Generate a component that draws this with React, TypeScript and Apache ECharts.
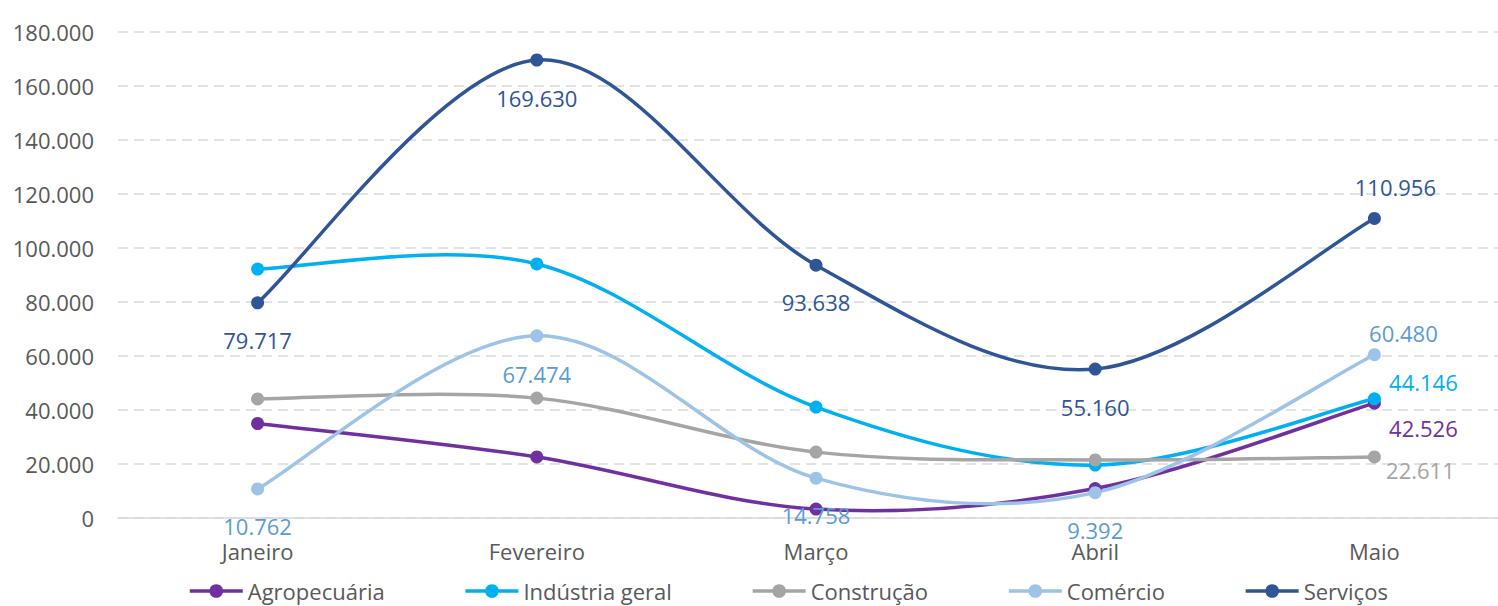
import React, { useEffect, useRef } from "react";
import * as echarts from "echarts";

const months = ["Janeiro", "Fevereiro", "Março", "Abril", "Maio"];
const seriesNames = ["Agropecuária", "Indústria geral", "Construção", "Comércio", "Serviços"];
const agropecuaria = [35000, 22600, 3300, 10900, 42526];
const industriaGeral = [92200, 94100, 41100, 19600, 44146];
const construcao = [44100, 44400, 24400, 21500, 22611];
const comercio = [10762, 67474, 14758, 9392, 60480];
const servicos = [79717, 169630, 93638, 55160, 110956];
const yMin = 0;
const yMax = 180000;
const yStep = 20000;

const lineColors = ["#7030A0", "#00B0F0", "#A5A5A5", "#9DC3E6", "#2F5597"];
const labelColors = ["#7030A0", "#00B0F0", "#A5A5A5", "#5B9BD5", "#2F5597"];

const fmt = (v: number) => String(Math.round(v)).replace(/\B(?=(\d{3})+(?!\d))/g, ".");

// which points get a label, and its offset from the marker
const labelOffsets: (number[] | null)[][] = [
  [null, null, null, null, [49, 25]],
  [null, null, null, null, [49, -17]],
  [null, null, null, null, [46, 13]],
  [[0, 37], [0, 38], [0, 37], [0, 37], [29, -22]],
  [[0, 37], [0, 38], [0, 37], [0, 38], [21, -31]],
];

const FONT = "'Open Sans', 'Noto Sans', sans-serif";
const LINE_W = 3.5;

// Catmull-Rom style smoothing (like spreadsheet smoothed lines), via axis coords
function smoothPath(pts: number[][]): string {
  const n = pts.length;
  let d = `M${pts[0][0]},${pts[0][1]}`;
  for (let i = 0; i < n - 1; i++) {
    const p0 = pts[Math.max(0, i - 1)];
    const p1 = pts[i];
    const p2 = pts[i + 1];
    const p3 = pts[Math.min(n - 1, i + 2)];
    const c1x = p1[0] + (p2[0] - p0[0]) / 6;
    const c1y = p1[1] + (p2[1] - p0[1]) / 6;
    const c2x = p2[0] - (p3[0] - p1[0]) / 6;
    const c2y = p2[1] - (p3[1] - p1[1]) / 6;
    d += ` C${c1x},${c1y} ${c2x},${c2y} ${p2[0]},${p2[1]}`;
  }
  return d;
}

export default function App() {
  const ref = useRef<HTMLDivElement>(null);
  useEffect(() => {
    if (!ref.current) return;
    const chart = echarts.init(ref.current, undefined, { renderer: "svg" });
    const all = [agropecuaria, industriaGeral, construcao, comercio, servicos];
    const series: any[] = [];
    all.forEach((vals, si) => {
      series.push({
        name: "curve-" + si,
        type: "custom",
        silent: true,
        coordinateSystem: "cartesian2d",
        data: [[0, vals[0]]],
        encode: { x: 0, y: 1 },
        renderItem: (_params: any, api: any) => {
          const pts = vals.map((v, i) => api.coord([i, v]));
          return {
            type: "path",
            shape: { pathData: smoothPath(pts) },
            style: { fill: "none", stroke: lineColors[si], lineWidth: LINE_W, lineCap: "round", lineJoin: "round" },
          };
        },
      });
      series.push({
        name: seriesNames[si],
        type: "line",
        symbol: "circle",
        symbolSize: 13,
        lineStyle: { width: 0, opacity: 0, color: lineColors[si] },
        itemStyle: { color: lineColors[si] },
        label: { show: false },
        data: vals.map((v, i) => {
          const off = labelOffsets[si][i];
          if (!off) return v;
          return {
            value: v,
            label: {
              show: true,
              position: "inside",
              offset: off,
              color: labelColors[si],
              fontFamily: FONT,
              fontSize: 22,
              formatter: (p: any) => fmt(p.value),
            },
          };
        }),
      });
    });
    chart.setOption({
      animation: false,
      backgroundColor: "#ffffff",
      grid: { left: 118, top: 32, right: 16, bottom: 88, containLabel: false },
      legend: {
        data: seriesNames,
        left: 183,
        top: 575,
        itemWidth: 53,
        itemHeight: 17,
        itemGap: 79,
        lineStyle: { opacity: 1, width: LINE_W },
        textStyle: { fontFamily: FONT, fontSize: 22, color: "#595959" },
      },
      xAxis: {
        type: "category",
        data: months,
        boundaryGap: true,
        axisLine: { lineStyle: { color: "#D9D9D9", width: 1.5 } },
        axisTick: { show: false },
        axisLabel: { fontFamily: FONT, fontSize: 22, color: "#595959", margin: 22 },
      },
      yAxis: {
        type: "value",
        min: yMin,
        max: yMax,
        interval: yStep,
        axisLine: { show: false },
        axisTick: { show: false },
        axisLabel: {
          fontFamily: FONT,
          fontSize: 22,
          color: "#595959",
          margin: 24,
          formatter: (v: number) => fmt(v),
        },
        splitLine: { lineStyle: { color: "#D9D9D9", width: 1.5, type: [10, 6] } },
      },
      series,
    });
    return () => chart.dispose();
  }, []);
  return (
    <div style={{ position: "fixed", left: 0, top: 0, width: 1498, height: 606, overflow: "hidden", background: "#fff" }}>
      <div ref={ref} style={{ width: 1530, height: 606 }} />
    </div>
  );
}
